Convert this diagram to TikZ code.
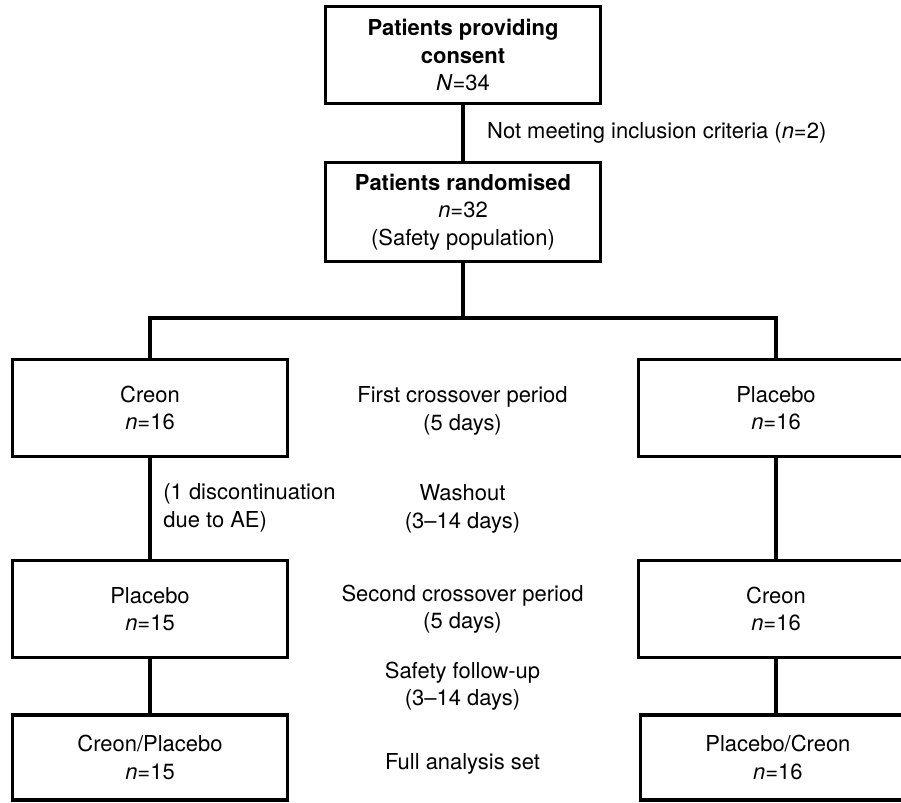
\documentclass[tikz,border=0pt]{standalone}
\usepackage{fontspec}
\setmainfont{TeX Gyre Heros}
\usepackage{tikz}
\usetikzlibrary{calc,positioning}
\tikzset{%
	process/.style  = {draw, rectangle, line width=1.6pt, minimum width=4.4cm, minimum height=1.55cm, text centered, align=center, font=\fontsize{10}{12.5}\selectfont},
	result/.style   = {process, minimum height=1.36cm},
	period/.style   = {align=center, font=\fontsize{10}{12.5}\selectfont},
	line/.style     = {line width=1.6pt},
}
\begin{document}
\begin{tikzpicture}
	\useasboundingbox (0,0) rectangle (14.416,-12.832);
		\node[process] (consent) at (7.408,-0.88) {\textbf{Patients providing}\\\textbf{consent}\\\textit{N}=34};
		\node[process,below of=consent,node distance=2.512cm,minimum height=1.584cm] (rand) {\textbf{Patients randomised}\\\textit{n}=32\\(Safety population)};
		\coordinate[below of=rand,node distance=1.7cm] (split);
		\node[process] (creonA) at (2.4,-6.528) {Creon\\\textit{n}=16};
		\node[process,right of=creonA,node distance=10.016cm] (placeboA) {Placebo\\\textit{n}=16};
		\node[process,below of=creonA,node distance=3.216cm] (placeboB) {Placebo\\\textit{n}=15};
		\node[process,below of=placeboA,node distance=3.216cm] (creonB) {Creon\\\textit{n}=16};
		\node[result,below of=placeboB,node distance=2.376cm] (crpl) {Creon/Placebo\\\textit{n}=15};
		\node[result,below of=creonB,node distance=2.376cm,xshift=0.03cm] (plcr) {Placebo/Creon\\\textit{n}=16};
		% side notes
		\node[period,anchor=west] (excl) at (7.67,-2.128) {Not meeting inclusion criteria (\textit{n}=2)};
		\node[period,anchor=west,align=left] (disc) at (2.49,-8.128) {(1 discontinuation\\due to AE)};
		% study periods
		\node[period] (first) at (7.4,-6.576) {First crossover period\\(5 days)};
		\node[period] (wash) at (7.4,-8.144) {Washout\\(3--14 days)};
		\node[period] (second) at (7.4,-9.744) {Second crossover period\\(5 days)};
		\node[period] (follow) at (7.4,-10.976) {Safety follow-up\\(3--14 days)};
		\node[period] (fas) at (7.4,-12.224) {Full analysis set};
		\draw[line] (consent) -- (rand);
		\draw[line] (rand) -- (split);
		\draw[line] (creonA.north) |- (split) -| (placeboA.north);
		\draw[line] (creonA) -- (placeboB);
		\draw[line] (placeboB) -- (crpl);
		\draw[line] (placeboA) -- (creonB);
		\draw[line] (creonB) -- (creonB |- plcr.north);
\end{tikzpicture}
\end{document}
